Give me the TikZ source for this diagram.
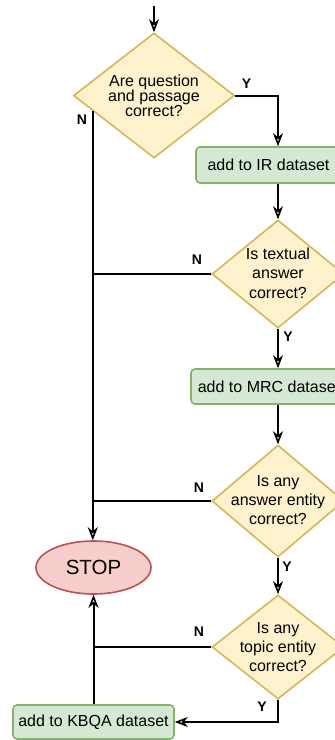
\documentclass[tikz,border=0pt]{standalone}
\usepackage{fontspec}
\setmainfont{Liberation Sans}
\usetikzlibrary{shapes.geometric,arrows.meta,calc}
\definecolor{dfill}{HTML}{FFF2CC}
\definecolor{ddraw}{HTML}{D6B656}
\definecolor{gfill}{HTML}{D5E8D4}
\definecolor{gdraw}{HTML}{82B366}
\definecolor{rfill}{HTML}{F8CECC}
\definecolor{rdraw}{HTML}{B85450}
\tikzset{
  dia/.style={shape=diamond, draw=ddraw, fill=dfill, line width=1.6pt, inner sep=0pt},
  txt/.style={align=center, font=\fontsize{16}{15}\selectfont, inner sep=0pt},
  txtwide/.style={align=center, font=\fontsize{16}{19.3}\selectfont, inner sep=0pt},
  gbox/.style={draw=gdraw, fill=gfill, line width=1.6pt, rounded corners=4pt, inner sep=0pt,
    font=\fontsize{16}{18}\selectfont},
  stopnode/.style={ellipse, draw=rdraw, fill=rfill, line width=1.6pt, inner sep=0pt,
    font=\fontsize{20.5}{22}\selectfont},
  conn/.style={line width=2pt, black},
  arr/.style={conn, -{Stealth[open, length=13pt, width=10pt, inset=4pt, line width=1.6pt]}},
  lab/.style={font=\bfseries\fontsize{14}{14}\selectfont, inner sep=0pt}
}
\begin{document}
\begin{tikzpicture}[x=1pt, y=-1pt]
\useasboundingbox (0,0) rectangle (335,740);
\clip (0,0) rectangle (335,740);
% shapes
\node[dia, minimum width=161pt, minimum height=125pt] (d1) at (154,95.5) {};
\node[txt] (t1) at (154,95.5) {Are question\\and passage\\correct?};
\node[gbox, minimum width=145pt, minimum height=36pt] (ir) at (268.5,165) {add to IR dataset};
\node[dia, minimum width=132pt, minimum height=108pt] (d2) at (278,274) {};
\node[txtwide] (t2) at (278,273) {Is textual\\answer\\correct?};
\node[gbox, minimum width=156pt, minimum height=35pt] (mrc) at (269,386.5) {add to MRC dataset};
\node[dia, minimum width=132pt, minimum height=112pt] (d3) at (278,501) {};
\node[txtwide] (t3) at (278,500) {Is any\\answer entity\\correct?};
\node[dia, minimum width=132pt, minimum height=104pt] (d4) at (278,647) {};
\node[txtwide] (t4) at (278,647) {Is any\\topic entity\\correct?};
\node[stopnode, minimum width=115pt, minimum height=53pt] (stop) at (93.5,567.5) {STOP};
\node[gbox, minimum width=161pt, minimum height=34pt] (kbqa) at (93.5,722) {add to KBQA dataset};
% connectors
\coordinate (start) at (154,6);
\draw[arr] (start) -- (d1.north);
\draw[arr] (d1.east) -| (ir.north -| d2.north);
\coordinate (nstart) at ($(d1.west)!0.247!(d1.south)$);
\draw[arr] (nstart) -- (nstart |- stop.north);
\draw[arr] (ir.south -| d2.north) -- (d2.north);
\draw[conn] (d2.west) -- (d2.west -| nstart);
\draw[arr] (d2.south) -- (d2.south |- mrc.north);
\draw[arr] (mrc.south -| d3.north) -- (d3.north);
\draw[conn] (d3.west) -- (d3.west -| nstart);
\draw[arr] (d3.south) -- (d4.north);
\draw[conn] (d4.west) -- (d4.west -| kbqa.north);
\draw[arr] (kbqa.north) -- (stop.south);
\draw[arr] (d4.south) |- (kbqa.east);
% labels
\node[lab] (y1) at (246.5,84) {Y};
\node[lab] (n1) at (82,120) {N};
\node[lab] (n2) at (197,260) {N};
\node[lab] (y2) at (288,337) {Y};
\node[lab] (n3) at (199,488) {N};
\node[lab] (y3) at (287,567) {Y};
\node[lab] (n4) at (199,632) {N};
\node[lab] (y4) at (262,707) {Y};
\end{tikzpicture}
\end{document}
